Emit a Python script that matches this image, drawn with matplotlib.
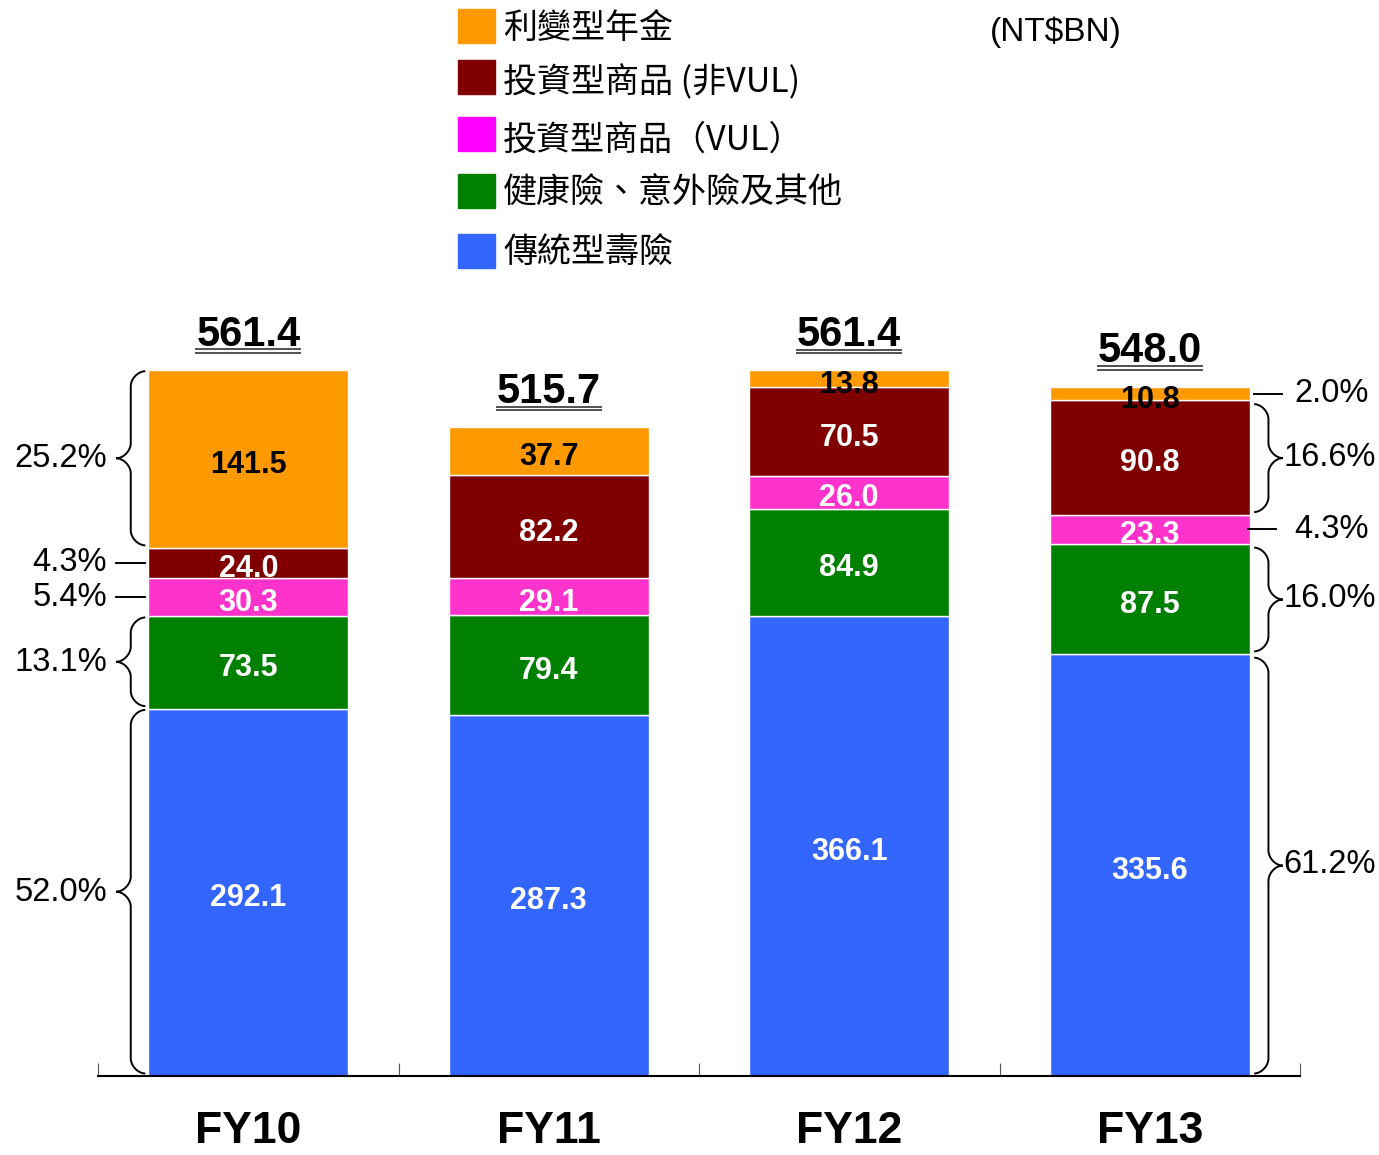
import matplotlib
matplotlib.use("Agg")
import matplotlib.pyplot as plt
import matplotlib.transforms as mtransforms
from matplotlib.path import Path
from matplotlib.patches import PathPatch, Rectangle
import numpy as np

# data (NT$BN)
years = ["FY10", "FY11", "FY12", "FY13"]
totals = [561.4, 515.7, 561.4, 548.0]
traditional = [292.1, 287.3, 366.1, 335.6]
health = [73.5, 79.4, 84.9, 87.5]
vul = [30.3, 29.1, 26.0, 23.3]
non_vul = [24.0, 82.2, 70.5, 90.8]
annuity = [141.5, 37.7, 13.8, 10.8]

names = ["傳統型壽險", "健康險、意外險及其他", "投資型商品（VUL）", "投資型商品 (非VUL)", "利變型年金"]
bar_colors = ["#3366FF", "#008000", "#FF33CC", "#800000", "#FF9900"]
legend_colors = ["#3366FF", "#008000", "#FF00FF", "#800000", "#FF9900"]
label_colors = ["white", "white", "white", "white", "black"]

# how each share is marked beside the first / last bar
left_marks = ["brace", "brace", "line", "line", "brace"]
right_marks = ["brace", "brace", "line", "brace", "line"]

plt.rcParams['font.family'] = ['Liberation Sans', 'DejaVu Sans']
cjk = ['Noto Sans CJK TC', 'DejaVu Sans']

W, H = 1379, 1155
fig = plt.figure(figsize=(W / 100, H / 100), dpi=100)
ax = fig.add_axes([98 / W, 1 - 1076 / H, 1202 / W, 754.6 / H])

series = [traditional, health, vul, non_vul, annuity]
x = np.arange(len(years))
bw = 0.665
bottom = np.zeros(len(years))
bottoms = []
for vals, col, lc in zip(series, bar_colors, label_colors):
    vals = np.array(vals)
    ax.bar(x, vals, bw, bottom=bottom, color=col, edgecolor="white", linewidth=1, zorder=2)
    for i, v in enumerate(vals):
        ax.text(x[i], bottom[i] + v / 2 - 2, f"{v:.1f}", ha="center", va="center_baseline",
                color=lc, fontsize=22, fontweight="bold", zorder=5)
    bottoms.append(bottom.copy())
    bottom = bottom + vals

# totals with double underline
for i, t in enumerate(totals):
    top = bottom[i]
    ax.annotate(f"{t:.1f}", xy=(x[i], top), xytext=(0, 17.5), textcoords="offset points",
                ha="center", va="baseline", fontsize=30, fontweight="bold")
    for off in (12.2, 14.8):
        tr = mtransforms.offset_copy(ax.transData, fig=fig, y=off, units="points")
        ax.plot([x[i] - 0.176, x[i] + 0.176], [top, top], color="#333333", lw=1.2,
                transform=tr, clip_on=False, solid_capstyle="butt")


def brace(xb, xt, y0, y1, r):
    xm = (xb + xt) / 2
    ym = (y0 + y1) / 2
    verts = [(xb, y1),
             ((xb + xm) / 2, y1), (xm, y1 - r / 2), (xm, y1 - r),
             (xm, ym + r),
             (xm, ym + r / 2), ((xm + xt) / 2, ym), (xt, ym),
             ((xm + xt) / 2, ym), (xm, ym - r / 2), (xm, ym - r),
             (xm, y0 + r),
             (xm, y0 + r / 2), ((xb + xm) / 2, y0), (xb, y0)]
    codes = [Path.MOVETO] + [Path.CURVE4] * 3 + [Path.LINETO] + [Path.CURVE4] * 6 + \
            [Path.LINETO] + [Path.CURVE4] * 3
    ax.add_patch(PathPatch(Path(verts, codes), fill=False, lw=1.4, ec="black",
                           clip_on=False, zorder=3))


# left side shares (FY10)
edge = x[0] - bw / 2
for k, mark in enumerate(left_marks):
    v = series[k][0]
    y0 = bottoms[k][0]
    y1 = y0 + v
    share = v / totals[0] * 100
    xb, xt = edge - 0.01, edge - 0.107
    if mark == "brace":
        brace(xb, xt, y0 + 2, y1 - 1, min(12, (y1 - y0) / 4))
    else:
        ax.plot([xt, xb], [(y0 + y1) / 2] * 2, color="black", lw=1.4, clip_on=False)
    ax.text(xt - 0.03, (y0 + y1) / 2, f"{share:.1f}%", ha="right", va="center",
            fontsize=23.5)

# right side shares (FY13)
edge = x[-1] + bw / 2
for k, mark in enumerate(right_marks):
    v = series[k][-1]
    y0 = bottoms[k][-1]
    y1 = y0 + v
    share = v / totals[-1] * 100
    if mark == "brace":
        xb, xt = edge + 0.015, edge + 0.11
        brace(xb, xt, y0 + 2, y1 - 3, min(12, (y1 - y0) / 4))
        ax.text(xt + 0.003, (y0 + y1) / 2, f"{share:.1f}%", ha="left", va="center",
                fontsize=23.5)
    else:
        shift = 0.013 if k == 4 else -0.007
        ax.plot([edge + shift, edge + shift + 0.093], [(y0 + y1) / 2] * 2, color="black",
                lw=1.4, clip_on=False)
        ax.text(edge + 0.148, (y0 + y1) / 2, f"{share:.1f}%", ha="left", va="center",
                fontsize=23.5)

ax.set_xlim(-0.5, 3.5)
ax.set_ylim(0, 600)
for s in ("left", "right", "top"):
    ax.spines[s].set_visible(False)
ax.spines["bottom"].set_linewidth(1.5)
ax.set_yticks([])
ax.set_xticks(x)
ax.set_xticklabels(years, fontsize=32, fontweight="bold")
ax.tick_params(axis="x", which="major", length=0, pad=25)
ax.set_xticks(np.arange(-0.5, 3.6, 1), minor=True)
ax.tick_params(axis="x", which="minor", direction="in", length=9.5, width=0.8, color="#555555")

# legend drawn by hand
leg_y = [26, 77, 134, 191, 251]
txt_y = [28, 83, 140, 193, 252]
for k in range(5):
    j = 4 - k
    yc = leg_y[k]
    fig.add_artist(Rectangle((458 / W, 1 - (yc + 17) / H), 37 / W, 34 / H,
                             transform=fig.transFigure, color=legend_colors[j]))
    fig.text(503 / W, 1 - txt_y[k] / H, names[j], ha="left", va="center",
             fontsize=24.5, family=cjk)

fig.text(1056 / W, 1 - 32 / H, "(NT$BN)", ha="center", va="center", fontsize=24)

fig.savefig("out.png", dpi=100)
